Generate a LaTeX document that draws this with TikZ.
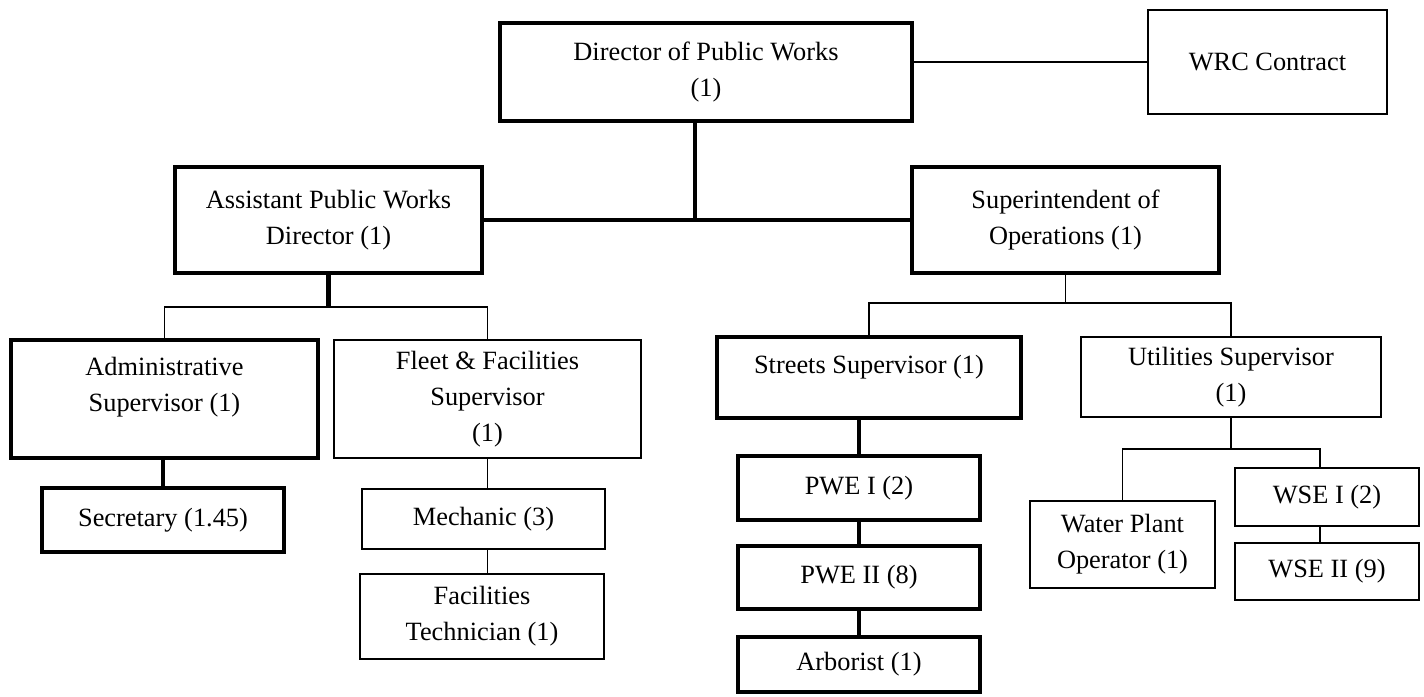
\documentclass[tikz,border=0pt]{standalone}
\usepackage{fontspec}
\setmainfont{Liberation Serif}
\usetikzlibrary{positioning}

\begin{document}
\begin{tikzpicture}[
  every node/.style={font=\fontsize{15}{20.5}\selectfont},
  thickbox/.style={draw,line width=2.8pt,align=center,inner sep=3pt},
  thinbox/.style={draw,line width=1.1pt,align=center,inner sep=3pt},
  thickline/.style={line width=2.8pt},
  thinline/.style={line width=1.1pt},
]
  \useasboundingbox (0,0) rectangle (28.48,13.94);

  % Top level
  \node[thickbox,minimum width=8.24cm,minimum height=1.96cm] (dir) at (14.12,12.50)
    {Director of Public Works\\(1)};
  \node[thinbox,minimum width=4.78cm,minimum height=2.08cm] (wrc) at (25.35,12.70)
    {WRC Contract};

  % Second level
  \node[thickbox,minimum width=6.14cm,minimum height=2.12cm] (apwd) at (6.57,9.54)
    {Assistant Public Works\\Director (1)};
  \node[thickbox,minimum width=6.14cm,minimum height=2.12cm] (sup) at (21.31,9.54)
    {Superintendent of\\Operations (1)};

  % Under the assistant director
  \node[thickbox,minimum width=6.14cm,minimum height=2.36cm,text depth=0.57cm] (admin) at (3.29,5.96)
    {Administrative\\Supervisor (1)};
  \node[thinbox,minimum width=6.14cm,minimum height=2.36cm] (fleet) at (9.75,5.96)
    {Fleet \& Facilities\\Supervisor\\(1)};
  \node[thickbox,minimum width=4.84cm,minimum height=1.28cm] (sec) at (3.26,3.54)
    {Secretary (1.45)};
  \node[thinbox,minimum width=4.86cm,minimum height=1.20cm] (mech) at (9.67,3.56)
    {Mechanic (3)};
  \node[thinbox,minimum width=4.88cm,minimum height=1.70cm] (ftech) at (9.64,1.61)
    {Facilities\\Technician (1)};

  % Under the superintendent
  \node[thickbox,minimum width=6.08cm,minimum height=1.62cm,text depth=0.51cm] (streets) at (17.38,6.39)
    {Streets Supervisor (1)};
  \node[thinbox,minimum width=6.00cm,minimum height=1.60cm] (util) at (24.62,6.40)
    {Utilities Supervisor\\(1)};
  \node[thickbox,minimum width=4.84cm,minimum height=1.28cm] (pwe1) at (17.18,4.18)
    {PWE I (2)};
  \node[thickbox,minimum width=4.84cm,minimum height=1.26cm] (pwe2) at (17.18,2.39)
    {PWE II (8)};
  \node[thickbox,minimum width=4.84cm,minimum height=1.10cm] (arb) at (17.18,0.65)
    {Arborist (1)};
  \node[thinbox,minimum width=3.70cm,minimum height=1.74cm] (water) at (22.45,3.05)
    {Water Plant\\Operator (1)};
  \node[thinbox,minimum width=3.68cm,minimum height=1.16cm] (wse1) at (26.54,4.00)
    {WSE I (2)};
  \node[thinbox,minimum width=3.68cm,minimum height=1.14cm] (wse2) at (26.54,2.51)
    {WSE II (9)};

  % Connectors
  \draw[thinline] (wrc.west) -- (wrc.west -| dir.east);
  \draw[thickline] (apwd.east) -- (sup.west);
  \draw[thickline] ([xshift=-0.22cm]dir.south) -- ([xshift=-0.22cm]dir.south |- apwd.east);

  \draw[thickline] (apwd.south) -- ++(0,-0.64);
  \draw[thinline] (apwd.south) ++(0,-0.64) -| (admin.north);
  \draw[thinline] (apwd.south) ++(0,-0.64) -| (fleet.north);
  \draw[thickline] (sec.north |- admin.south) -- (sec.north);
  \draw[thinline] (fleet.south) -- (fleet.south |- mech.north);
  \draw[thinline] (fleet.south |- mech.south) -- (fleet.south |- ftech.north);

  \draw[thinline] (sup.south) -- ++(0,-0.56) -| (streets.north);
  \draw[thinline] (sup.south) ++(0,-0.56) -| (util.north);
  \draw[thickline] (pwe1.north |- streets.south) -- (pwe1.north);
  \draw[thickline] (pwe1.south) -- (pwe2.north);
  \draw[thickline] (pwe2.south) -- (arb.north);

  \draw[thinline] (util.south) -- ++(0,-0.62) -| (water.north);
  \draw[thinline] (util.south) ++(0,-0.62) -| ([xshift=-0.14cm]wse1.north);
  \draw[thinline] ([xshift=-0.14cm]wse1.south) -- ([xshift=-0.14cm]wse2.north);
\end{tikzpicture}
\end{document}
